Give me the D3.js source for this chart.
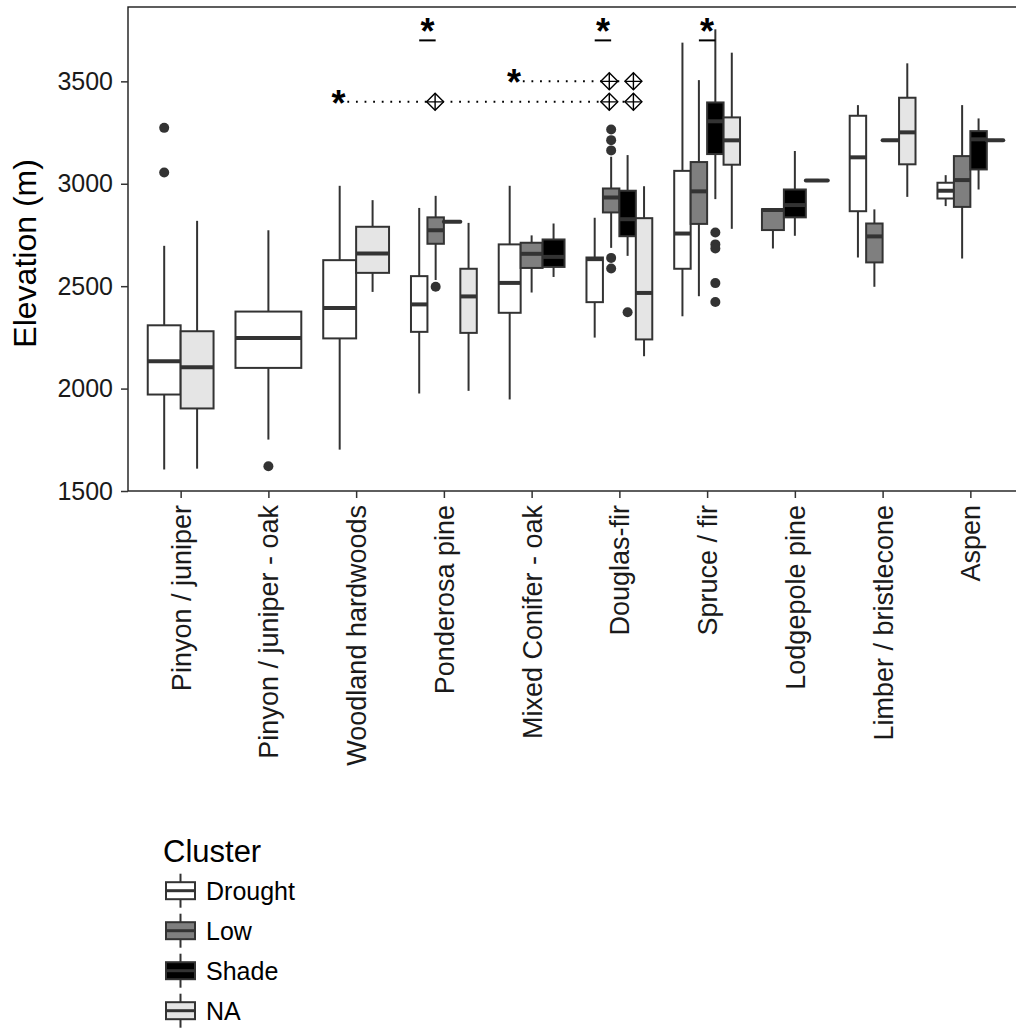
<!DOCTYPE html>
<html><head><meta charset="utf-8">
<script src="https://cdn.jsdelivr.net/npm/d3@7"></script>
<style>body{margin:0;background:#fff}svg{display:block}text{font-family:"Liberation Sans",Arial,sans-serif}</style>
</head><body><svg id="c" width="1016" height="1028"></svg>
<script>
const categories = ["Pinyon / juniper","Pinyon / juniper - oak","Woodland hardwoods","Ponderosa pine","Mixed Conifer - oak","Douglas-fir","Spruce / fir","Lodgepole pine","Limber / bristlecone","Aspen"];
const clusters = ["Drought","Low","Shade","NA"];
const clusterFills = ["#ffffff","#7f7f7f","#000000","#e5e5e5"];
const yTicks = [1500,2000,2500,3000,3500];

// [lower whisker, Q1, median, Q3, upper whisker]
const droughtStats = [
  [1605,1971,2134,2309,2697],
  [1751,2101,2247,2376,2773],
  [1702,2245,2393,2627,2990],
  [1976,2277,2411,2549,2882],
  [1947,2370,2516,2704,2990],
  [2249,2422,2632,2640,2834],
  [2353,2585,2757,3063,3689],
  null,
  [2640,2866,3129,3332,3384],
  [2891,2928,2966,3005,3042]
];
const lowStats = [
  null, null, null,
  [2530,2707,2773,2836,2941],
  [2469,2589,2658,2712,2748],
  [2687,2860,2933,2977,3132],
  [2451,2804,2963,3106,3506],
  [2684,2774,2872,2876,2880],
  [2497,2616,2743,2806,2875],
  [2635,2887,3018,3135,3384]
];
const shadeStats = [
  null, null, null,
  [2814,2814,2814,2814,2814],
  [2545,2594,2643,2728,2806],
  [2648,2744,2827,2966,3140],
  [2925,3145,3305,3397,3754],
  [2746,2836,2896,2972,3160],
  [3213,3213,3213,3213,3213],
  [2972,3070,3217,3257,3319]
];
const naStats = [
  [1609,1903,2104,2280,2819],
  null,
  [2472,2565,2660,2790,2920],
  [1989,2272,2450,2585,2809],
  null,
  [2158,2240,2467,2832,2988],
  [2780,3093,3212,3324,3640],
  [3016,3016,3016,3016,3016],
  [2936,3095,3251,3420,3588],
  [3213,3213,3213,3213,3213]
];
// outliers: [category index, value]
const droughtOutliers = [[0,3273],[0,3055],[1,1621]];
const lowOutliers = [[3,2497],[5,3265],[5,3213],[5,3163],[5,2638],[5,2586]];
const shadeOutliers = [[5,2373],[6,2762],[6,2704],[6,2684],[6,2515],[6,2423]];
const naOutliers = [];

// significance brackets: [category index, cluster a, cluster b]
const bracketPairs = [[3,"Drought","Low"],[5,"Drought","Low"],[6,"Low","Shade"]];
const bracketLevel = 3700;
const bracketStarLevel = 3782;
// dotted comparisons
const dotStarX = [2.8, 4.8];
const dotLevels = [3400, 3500];
const dotMarkers = [[3.9, 5.885, 6.16],[5.885, 6.16]];

const statsBy = [droughtStats, lowStats, shadeStats, naStats];
const outliersBy = [droughtOutliers, lowOutliers, shadeOutliers, naOutliers];

const svg = d3.select("#c");
const x = d3.scaleLinear().domain([0.4, 10.6]).range([128, 1023]);
const y = d3.scaleLinear().domain([1500, 3863]).range([491, 7]);
const step = x(2) - x(1);
const dodgeW = 0.75 * step;
const ink = "#333333";
const starSize = 36;

// dodge positions
function boxPos(ci, k) {
  const present = clusters.map((c, j) => statsBy[j][ci] ? j : -1).filter(j => j >= 0);
  const n = present.length;
  const w = dodgeW / n;
  const idx = present.indexOf(k);
  const left = x(ci + 1) - dodgeW / 2 + idx * w;
  return {left, w, cx: left + w / 2};
}

const plot = svg.append("g");
// panel border
plot.append("rect").attr("x", x.range()[0]).attr("y", y.range()[1])
  .attr("width", x.range()[1] - x.range()[0]).attr("height", y.range()[0] - y.range()[1])
  .attr("fill", "none").attr("stroke", "#1a1a1a").attr("stroke-width", 1.4);

// boxes
clusters.forEach((c, k) => {
  statsBy[k].forEach((s, ci) => {
    if (!s) return;
    const p = boxPos(ci, k);
    const g = plot.append("g");
    g.append("line").attr("x1", p.cx).attr("x2", p.cx).attr("y1", y(s[4])).attr("y2", y(s[3]))
      .attr("stroke", ink).attr("stroke-width", 2);
    g.append("line").attr("x1", p.cx).attr("x2", p.cx).attr("y1", y(s[1])).attr("y2", y(s[0]))
      .attr("stroke", ink).attr("stroke-width", 2);
    g.append("rect").attr("x", p.left).attr("width", p.w)
      .attr("y", y(s[3])).attr("height", Math.max(0, y(s[1]) - y(s[3])))
      .attr("fill", clusterFills[k]).attr("stroke", ink).attr("stroke-width", 2);
    g.append("line").attr("x1", p.left).attr("x2", p.left + p.w).attr("y1", y(s[2])).attr("y2", y(s[2]))
      .attr("stroke", ink).attr("stroke-width", 4).attr("stroke-linecap", s[0] === s[4] ? "round" : "butt");
  });
  outliersBy[k].forEach(o => {
    const p = boxPos(o[0], k);
    plot.append("circle").attr("cx", p.cx).attr("cy", y(o[1])).attr("r", 5).attr("fill", ink);
  });
});

// significance brackets
bracketPairs.forEach(b => {
  const a = boxPos(b[0], clusters.indexOf(b[1])).cx;
  const c = boxPos(b[0], clusters.indexOf(b[2])).cx;
  plot.append("line").attr("x1", a).attr("x2", c).attr("y1", y(bracketLevel)).attr("y2", y(bracketLevel))
    .attr("stroke", "#000").attr("stroke-width", 2);
  plot.append("text").attr("x", (a + c) / 2).attr("y", y(bracketStarLevel) + 0.575 * starSize)
    .attr("text-anchor", "middle").attr("font-size", starSize).attr("font-weight", "bold").text("*");
});
// dotted comparisons
dotStarX.forEach((sx, i) => {
  const lv = dotLevels[i];
  const mk = dotMarkers[i];
  plot.append("line").attr("x1", x(sx + 0.1)).attr("x2", x(mk[mk.length - 1]))
    .attr("y1", y(lv)).attr("y2", y(lv)).attr("stroke", "#000").attr("stroke-width", 2)
    .attr("stroke-dasharray", "1.8,6.8");
  plot.append("text").attr("x", x(sx)).attr("y", y(lv) - 7 + 0.575 * starSize)
    .attr("text-anchor", "middle").attr("font-size", starSize).attr("font-weight", "bold").text("*");
  mk.forEach(m => {
    const cx = x(m), cy = y(lv), r = 8.5;
    const g = plot.append("g").attr("fill", "none").attr("stroke", "#000").attr("stroke-width", 1.4);
    g.append("path").attr("d", `M${cx},${cy - r}L${cx + r},${cy}L${cx},${cy + r}L${cx - r},${cy}Z`).attr("fill", "#fff");
    g.append("path").attr("d", `M${cx - r},${cy}H${cx + r}M${cx},${cy - r}V${cy + r}`);
  });
});

// y axis
const yAx = svg.append("g").attr("transform", `translate(${x.range()[0]},0)`)
  .call(d3.axisLeft(y).tickValues(yTicks).tickSize(7).tickPadding(8).tickFormat(d3.format("d")));
yAx.select(".domain").remove();
yAx.selectAll(".tick line").attr("stroke", ink).attr("stroke-width", 1.5);
yAx.selectAll(".tick text").attr("font-size", 25).attr("fill", "#1a1a1a");

// x axis
const xAx = svg.append("g").attr("transform", `translate(0,${y.range()[0]})`)
  .call(d3.axisBottom(x).tickValues(d3.range(1, categories.length + 1)).tickSize(7).tickFormat(d => categories[d - 1]));
xAx.select(".domain").remove();
xAx.selectAll(".tick line").attr("stroke", ink).attr("stroke-width", 1.5);
xAx.selectAll(".tick text").attr("font-size", 27).attr("fill", "#1a1a1a")
  .attr("transform", "rotate(-90)").attr("text-anchor", "end")
  .attr("x", -14).attr("y", 0).attr("dy", "0.35em");

// y title
svg.append("text").attr("transform", `translate(36,${y(2660)}) rotate(-90)`)
  .attr("text-anchor", "middle").attr("font-size", 32).attr("fill", "#000").text("Elevation (m)");

// legend
const lg = svg.append("g");
lg.append("text").attr("x", 163).attr("y", 862).attr("font-size", 31).attr("fill", "#000").text("Cluster");
clusters.forEach((c, k) => {
  const cy = 890.7 + k * 40, cx = 180.5;
  const g = lg.append("g");
  g.append("line").attr("x1", cx).attr("x2", cx).attr("y1", cy - 17).attr("y2", cy + 17).attr("stroke", ink).attr("stroke-width", 2);
  g.append("rect").attr("x", cx - 14.5).attr("y", cy - 8.5).attr("width", 29).attr("height", 17)
    .attr("fill", clusterFills[k]).attr("stroke", ink).attr("stroke-width", 2);
  g.append("line").attr("x1", cx - 14.5).attr("x2", cx + 14.5).attr("y1", cy).attr("y2", cy).attr("stroke", ink).attr("stroke-width", 3);
  g.append("text").attr("x", 206).attr("y", cy).attr("dy", "0.36em").attr("font-size", 25).attr("fill", "#000").text(c);
});
</script></body></html>
